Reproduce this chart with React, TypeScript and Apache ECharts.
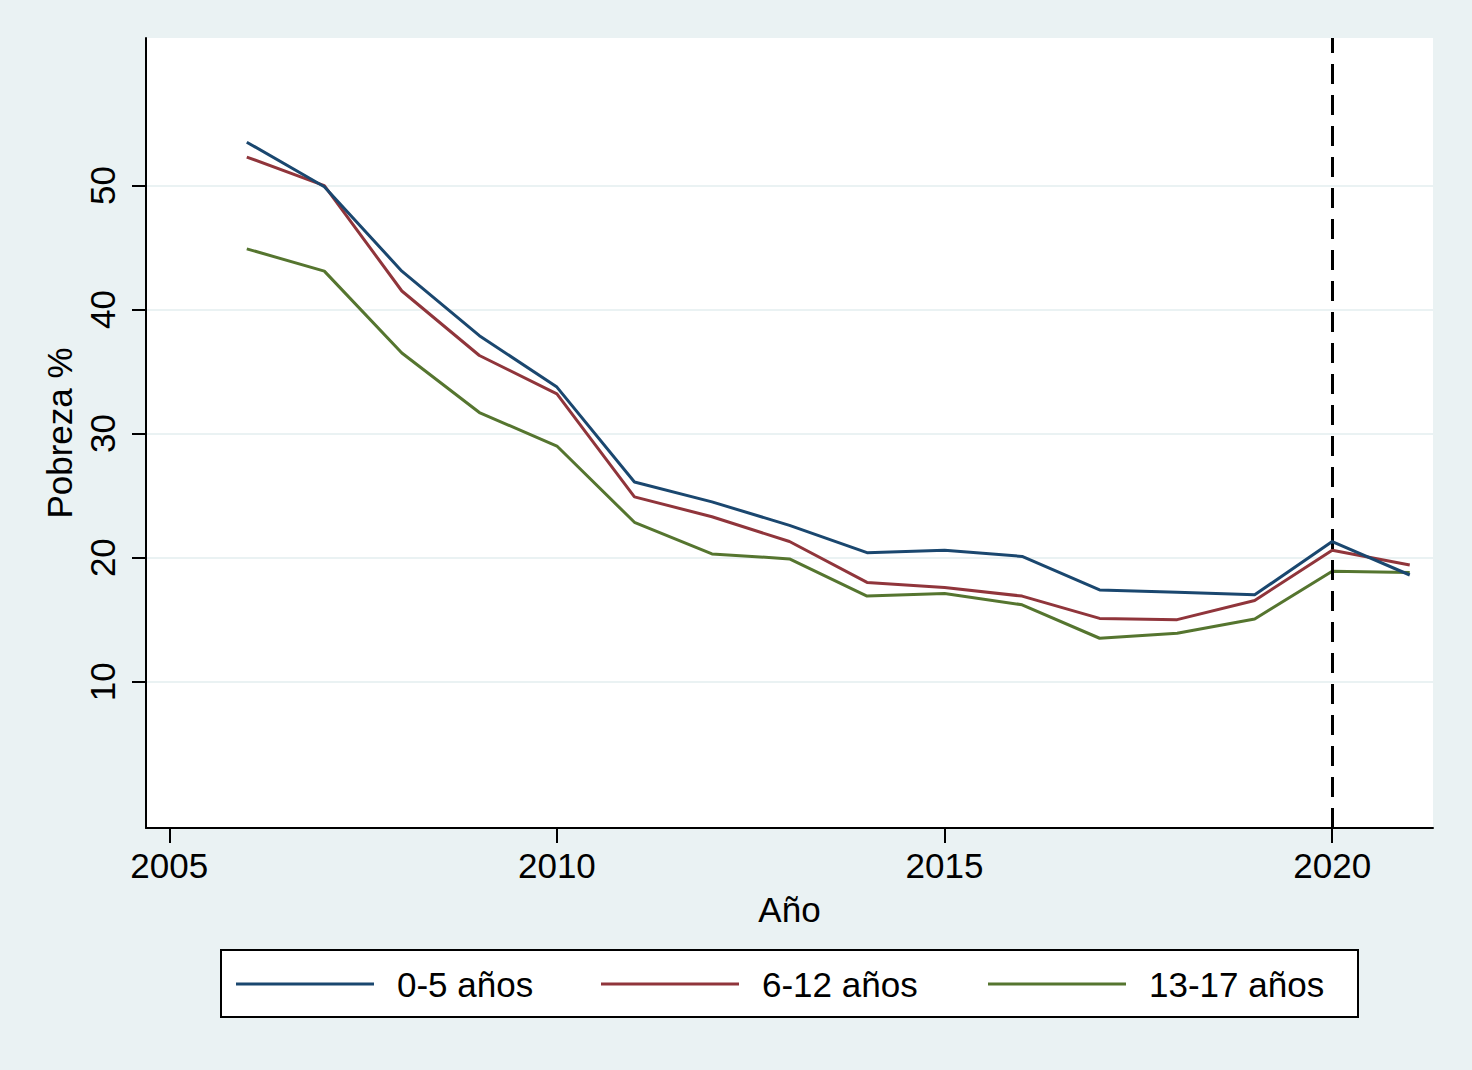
import React, { useEffect, useRef } from "react";
import * as echarts from "echarts";

const years = [2006, 2007, 2008, 2009, 2010, 2011, 2012, 2013, 2014, 2015, 2016, 2017, 2018, 2019, 2020, 2021];
const age0to5 = [53.5, 49.9, 43.1, 37.9, 33.75, 26.1, 24.5, 22.6, 20.4, 20.6, 20.1, 17.4, 17.2, 17.0, 21.3, 18.6];
const age6to12 = [52.3, 50.0, 41.5, 36.3, 33.2, 24.9, 23.3, 21.3, 18.0, 17.6, 16.9, 15.1, 15.0, 16.55, 20.6, 19.4];
const age13to17 = [44.9, 43.1, 36.5, 31.7, 29.0, 22.85, 20.3, 19.9, 16.9, 17.1, 16.2, 13.5, 13.9, 15.05, 18.9, 18.8];
const seriesNames = ["0-5 años", "6-12 años", "13-17 años"];
const xTicks = [2005, 2010, 2015, 2020];
const yTicks = [10, 20, 30, 40, 50];
const markYear = 2020;

const colors = ["#1a476f", "#90353b", "#55752f"];
const FONT = "Liberation Sans, Arial, Helvetica, sans-serif";

export default function App() {
  const ref = useRef<HTMLDivElement>(null);
  useEffect(() => {
    if (!ref.current) return;
    const chart = echarts.init(ref.current, undefined, { renderer: "svg" });
    const datasets = [age0to5, age6to12, age13to17];
    const legendLefts = [236, 601, 988];
    chart.setOption({
      animation: false,
      backgroundColor: "#EAF2F3",
      grid: {
        left: 146,
        top: 38,
        right: 39,
        bottom: 242,
        show: true,
        backgroundColor: "#ffffff",
        borderWidth: 0,
      },
      graphic: [
        {
          type: "rect",
          shape: { x: 221, y: 950, width: 1137, height: 67 },
          style: { fill: "#ffffff", stroke: "#000000", lineWidth: 2 },
          z: 0,
        },
      ],
      legend: seriesNames.map((n, i) => ({
        data: [n],
        left: legendLefts[i],
        top: 961,
        padding: 0,
        icon: "rect",
        itemWidth: 138,
        itemHeight: 3,
        selectedMode: false,
        textStyle: {
          fontFamily: FONT,
          fontSize: 35,
          lineHeight: 40,
          color: "#000",
          padding: [6, 0, 0, 18],
        },
      })),
      xAxis: {
        type: "value",
        min: 2004.7,
        max: 2021.3,
        name: "Año",
        nameLocation: "middle",
        nameGap: 64,
        nameTextStyle: { fontFamily: FONT, fontSize: 35, color: "#000" },
        axisLine: { show: true, onZero: false, lineStyle: { color: "#000", width: 2 } },
        axisTick: { show: true, length: 15, customValues: xTicks, lineStyle: { color: "#000", width: 2 } },
        axisLabel: {
          customValues: xTicks,
          margin: 20,
          fontFamily: FONT,
          fontSize: 35,
          color: "#000",
          formatter: (v: number) => String(Math.round(v)),
        },
        splitLine: { show: false },
      },
      yAxis: {
        type: "value",
        min: -1.8,
        max: 61.9,
        name: "Pobreza %",
        nameLocation: "middle",
        nameGap: 68,
        nameTextStyle: { fontFamily: FONT, fontSize: 35, color: "#000" },
        axisLine: { show: true, onZero: false, lineStyle: { color: "#000", width: 2 } },
        axisTick: { show: true, length: 14, customValues: yTicks, lineStyle: { color: "#000", width: 2 } },
        axisLabel: {
          customValues: yTicks,
          rotate: 90,
          margin: 26,
          fontFamily: FONT,
          fontSize: 35,
          color: "#000",
          formatter: (v: number) => String(Math.round(v)),
        },
        splitLine: { show: true, lineStyle: { color: "#EAF2F3", width: 2 } },
      },
      series: seriesNames.map((n, i) => ({
        name: n,
        type: "line",
        data: years.map((y, j) => [y, datasets[i][j]]),
        symbol: "none",
        showSymbol: false,
        color: colors[i],
        itemStyle: { color: colors[i] },
        lineStyle: { color: colors[i], width: 3 },
        z: 3 - i + 2,
        markLine:
          i === 0
            ? {
                silent: true,
                symbol: "none",
                label: { show: false },
                lineStyle: { color: "#000", type: [20, 11], width: 3 },
                data: [{ xAxis: markYear }],
              }
            : undefined,
      })),
    });
    return () => chart.dispose();
  }, []);
  return (
    <div
      ref={ref}
      style={{ position: "fixed", left: 0, top: 0, width: 1472, height: 1070 }}
    />
  );
}
